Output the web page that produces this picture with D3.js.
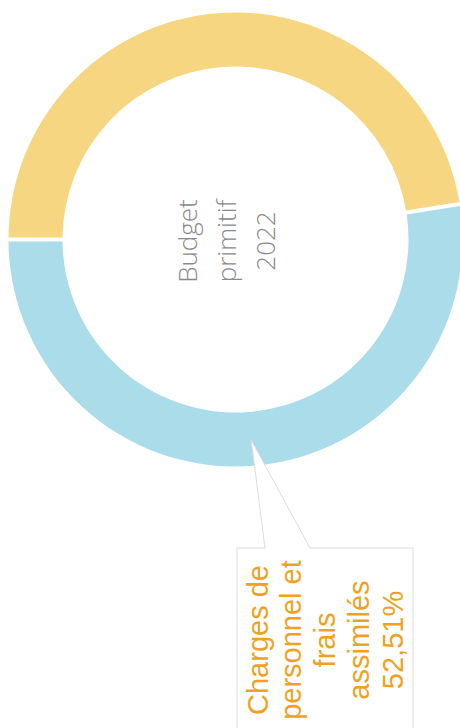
<!DOCTYPE html>
<html lang="fr">
    <head>
        <meta charset="UTF-8">
        <title>donut</title>
        <script src="https://cdn.jsdelivr.net/npm/d3@7"></script>
        <style>
            body { margin: 0; background: #fff; }
        </style>
    </head>
    <body>
        <div id="chart"></div>
    </body>
    <script>
        var width = 460;
        var height = 728;
        // donnees
        var categories = ["Autres charges", "Charges de personnel et frais assimilés"];
        var values = [47.49, 52.51];
        var colors = ["#f6d680", "#aadcea"];
        var centerLines = ["Budget", "primitif", "2022"];
        var labelLines = ["Charges de", "personnel et", "frais", "assimilés"];

        var cx = 235.5, cy = 239.5;
        var outerR = 227, innerR = 173;

        var svg = d3.select("#chart")
            .append("svg")
            .attr("width", width)
            .attr("height", height);

        var pie = d3.pie()
            .sort(null)
            .startAngle(-Math.PI / 2)
            .endAngle(Math.PI * 1.5)
            .padAngle(0.014);
        var arc = d3.arc()
            .innerRadius(innerR)
            .outerRadius(outerR);

        var arcs = pie(values);
        var g = svg.append("g")
            .attr("transform", "translate(" + cx + "," + cy + ")");
        g.selectAll("path")
            .data(arcs)
            .enter()
            .append("path")
            .attr("d", arc)
            .attr("fill", function (d, i) { return colors[i]; });

        // texte central
        g.append("text")
            .attr("transform", "translate(0.5,1.5) rotate(-90)")
            .attr("text-anchor", "middle")
            .attr("font-family", "'Open Sans', sans-serif")
            .attr("font-weight", 300)
            .attr("font-size", 26)
            .attr("fill", "#8a8a8a")
            .selectAll("tspan")
            .data(centerLines)
            .enter()
            .append("tspan")
            .attr("x", 0)
            .attr("y", function (d, i) { return (i - 1) * 39; })
            .text(function (d) { return d; });

        // bulle
        var tip = arc.centroid(arcs[1]);
        tip = [cx + tip[0], cy + tip[1] + 1];
        var box = {left: 237, right: 413, top: 548, bottom: 745};
        var base = [265, 310];
        var bubble = d3.path();
        bubble.moveTo(box.left, box.top);
        bubble.lineTo(base[0], box.top);
        bubble.lineTo(tip[0], tip[1]);
        bubble.lineTo(base[1], box.top);
        bubble.lineTo(box.right, box.top);
        bubble.lineTo(box.right, box.bottom);
        bubble.lineTo(box.left, box.bottom);
        bubble.closePath();
        svg.append("path")
            .attr("d", bubble.toString())
            .attr("fill", "#fff")
            .attr("stroke", "#dcdcdc")
            .attr("stroke-width", 1);

        var pct = d3.format(".2f")(values[1]).replace(".", ",") + "%";
        svg.append("text")
            .attr("transform", "translate(335,640) rotate(-90)")
            .attr("text-anchor", "middle")
            .attr("font-family", "'Liberation Sans', Arial, sans-serif")
            .attr("font-size", 29)
            .attr("fill", "#f0a21e")
            .selectAll("tspan")
            .data(labelLines.concat([pct]))
            .enter()
            .append("tspan")
            .attr("x", 0)
            .attr("y", function (d, i) { return (i - 2) * 33.75; })
            .text(function (d) { return d; });
    </script>
</html>
